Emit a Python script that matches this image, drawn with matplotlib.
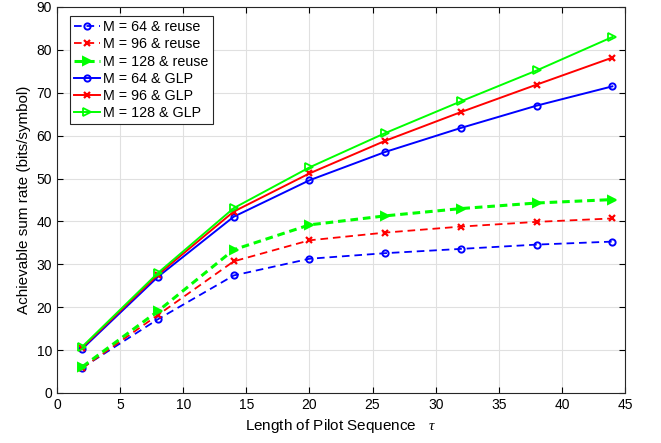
import matplotlib
matplotlib.use("Agg")
import matplotlib.pyplot as plt

plt.rcParams['font.family'] = ['Liberation Sans', 'DejaVu Sans']
plt.rcParams['mathtext.fontset'] = 'custom'
plt.rcParams['mathtext.it'] = 'Liberation Serif:italic'
plt.rcParams['lines.scale_dashes'] = False

tau = [2, 8, 14, 20, 26, 32, 38, 44]
reuse_64 = [5.9, 17.2, 27.4, 31.3, 32.6, 33.6, 34.6, 35.3]
reuse_96 = [5.8, 18.2, 30.7, 35.6, 37.4, 38.8, 39.9, 40.7]
reuse_128 = [6.1, 19.1, 33.4, 39.2, 41.3, 43.0, 44.3, 45.1]
glp_64 = [10.3, 27.1, 41.1, 49.6, 56.2, 61.8, 67.0, 71.5]
glp_96 = [10.6, 27.6, 42.3, 51.2, 58.8, 65.5, 71.9, 78.2]
glp_128 = [10.8, 28.0, 43.1, 52.6, 60.6, 68.0, 75.2, 83.0]

fig = plt.figure(figsize=(6.61, 4.43), dpi=100)
ax = fig.add_axes([57/661, 1-393/443, (625-57)/661, (393-7)/443])

dash = (5.5, 3.5)
ax.plot(tau, reuse_64, color=(0, 0, 1), lw=1.3, ls=(0, dash), marker='o', ms=4.5, mfc='none', mew=1.4, label='M = 64 & reuse')
ax.plot(tau, reuse_96, color=(1, 0, 0), lw=1.3, ls=(0, dash), marker='x', ms=5, mew=1.6, label='M = 96 & reuse')
ax.plot(tau, reuse_128, color=(0, 1, 0), lw=2.2, ls=(0, dash), marker='>', ms=6, mew=1.4, label='M = 128 & reuse')
ax.plot(tau, glp_64, '-', color=(0, 0, 1), lw=1.4, marker='o', ms=4.5, mfc='none', mew=1.4, label='M = 64 & GLP')
ax.plot(tau, glp_96, '-', color=(1, 0, 0), lw=1.4, marker='x', ms=5, mew=1.6, label='M = 96 & GLP')
ax.plot(tau, glp_128, '-', color=(0, 1, 0), lw=1.4, marker='>', ms=6, mfc='none', mew=1.3, label='M = 128 & GLP')

ax.set_xlim(0, 45)
ax.set_ylim(0, 90)
ax.set_xticks(range(0, 46, 5))
ax.set_yticks(range(0, 91, 10))
ax.grid(True, color='#e0e0e0', lw=0.8)
ax.set_axisbelow(True)
ax.tick_params(direction='in', top=True, right=True, labelsize=10, length=4)
for s in ax.spines.values():
    s.set_color('#262626')
    s.set_linewidth(0.8)

ax.set_xlabel(r'Length of Pilot Sequence   $\tau$', fontsize=11)
ax.set_ylabel('Achievable sum rate (bits/symbol)', fontsize=11)

leg = ax.legend(loc='upper left', bbox_to_anchor=(13/568, 1-9/386), borderaxespad=0,
                fontsize=10.3, fancybox=False, edgecolor='#262626',
                framealpha=1, handlelength=1.8, handletextpad=0.2, labelspacing=0.22,
                borderpad=0.3)
leg.get_frame().set_linewidth(0.8)

fig.savefig('out.png', dpi=100)
